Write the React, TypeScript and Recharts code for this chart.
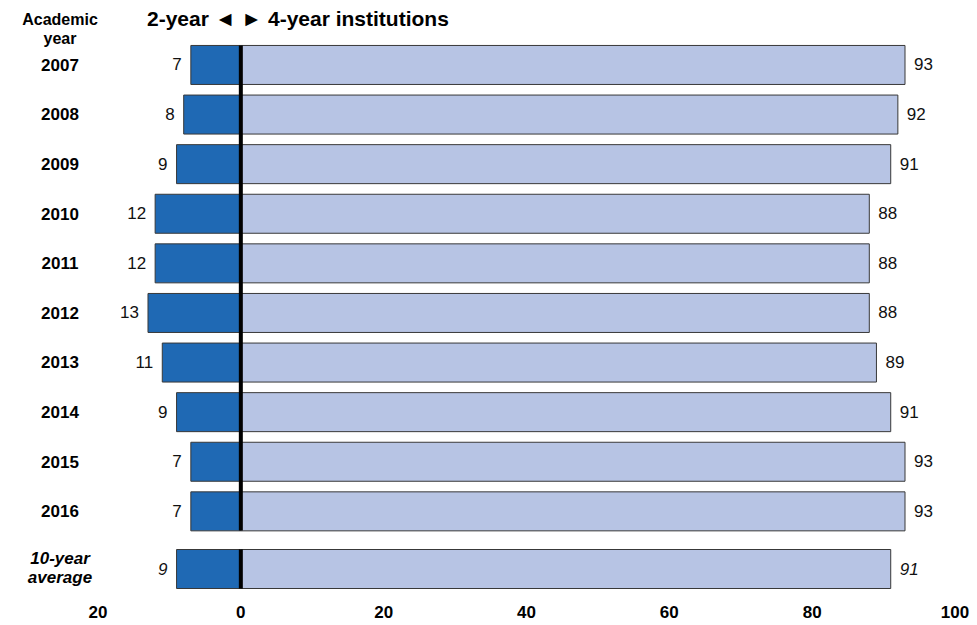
import { Bar, BarChart, LabelList, ReferenceLine, XAxis, YAxis } from 'recharts';

// Share of students by type of institution, percent
const years = ['2007', '2008', '2009', '2010', '2011', '2012', '2013', '2014', '2015', '2016'];
const twoYear = [7, 8, 9, 12, 12, 13, 11, 9, 7, 7];
const fourYear = [93, 92, 91, 88, 88, 88, 89, 91, 93, 93];

const averageLabel = '10-year\naverage';
const averageTwoYear = 9;
const averageFourYear = 91;

const xTicks = [-20, 0, 20, 40, 60, 80, 100];

const FONT = '"Liberation Sans", Arial, sans-serif';
const DARK = '#1f69b4';
const LIGHT = '#b7c4e4';
const EDGE = '#383838';
const GAP = '11%';
const LINE_INSET = 5.4;
const LABEL_X = 60;

const rows = years.map((year, i) => ({ year, two: -twoYear[i], four: fourYear[i] }));
const averageRow = [{ year: averageLabel, two: -averageTwoYear, four: averageFourYear }];

function YearTick(props: any) {
  const { y, payload } = props;
  const lines: string[] = String(payload.value).split('\n');
  const italic = lines.length > 1;
  const lh = 19;
  return (
    <text
      x={LABEL_X}
      y={y - (italic ? 2 : 0) - ((lines.length - 1) * lh) / 2}
      textAnchor="middle"
      dominantBaseline="central"
      fontFamily={FONT}
      fontWeight="bold"
      fontStyle={italic ? 'italic' : 'normal'}
      fontSize={17}
      fill="#000"
    >
      {lines.map((l, i) => (
        <tspan key={i} x={LABEL_X} dy={i === 0 ? 0 : lh}>
          {l}
        </tspan>
      ))}
    </text>
  );
}

const valueLabel = (side: 'left' | 'right', italic: boolean) => (props: any) => {
  const { x, y, width, height, value } = props;
  const lo = Math.min(x, x + width);
  const hi = Math.max(x, x + width);
  return (
    <text
      x={side === 'left' ? lo - 9 : hi + 9}
      y={y + height / 2}
      textAnchor={side === 'left' ? 'end' : 'start'}
      dominantBaseline="central"
      fontFamily={FONT}
      fontSize={17}
      fontStyle={italic ? 'italic' : 'normal'}
      fill="#111"
    >
      {Math.abs(value)}
    </text>
  );
};

function ZeroLine(props: any) {
  const top = Math.min(props.y1, props.y2) + LINE_INSET;
  const bottom = Math.max(props.y1, props.y2) - LINE_INSET;
  return <line x1={props.x1} x2={props.x2} y1={top} y2={bottom} stroke="#000" strokeWidth={4} />;
}

function Rows({ data, height, margin, italic, showAxis }: any) {
  return (
    <BarChart
      width={977}
      height={height}
      data={data}
      layout="vertical"
      stackOffset="sign"
      barCategoryGap={GAP}
      margin={margin}
    >
      <XAxis
        type="number"
        domain={[-20, 100]}
        ticks={xTicks}
        hide={!showAxis}
        height={31}
        axisLine={false}
        tickLine={false}
        tickMargin={6}
        tickFormatter={(v: number) => String(Math.abs(v))}
        tick={{ fill: '#000', fontSize: 17, fontWeight: 'bold', fontFamily: FONT }}
        interval={0}
      />
      <YAxis type="category" dataKey="year" width={98} axisLine={false} tickLine={false} tick={<YearTick />} />
      <Bar dataKey="two" stackId="s" fill={DARK} stroke={EDGE} strokeWidth={1} isAnimationActive={false}>
        <LabelList dataKey="two" content={valueLabel('left', italic)} />
      </Bar>
      <Bar dataKey="four" stackId="s" fill={LIGHT} stroke={EDGE} strokeWidth={1} isAnimationActive={false}>
        <LabelList dataKey="four" content={valueLabel('right', italic)} />
      </Bar>
      <ReferenceLine x={0} shape={<ZeroLine />} />
    </BarChart>
  );
}

export default function App() {
  return (
    <div style={{ position: 'absolute', left: 0, top: 0, width: 977, height: 625, background: '#fff', fontFamily: FONT }}>
      <div
        style={{
          position: 'absolute',
          left: LABEL_X - 60,
          width: 120,
          top: 10,
          textAlign: 'center',
          fontWeight: 'bold',
          fontSize: 16,
          lineHeight: '19px',
        }}
      >
        Academic
        <br />
        year
      </div>
      <div style={{ position: 'absolute', left: 147, top: 7, fontWeight: 'bold', fontSize: 21, whiteSpace: 'pre' }}>
        2-year ◄ ► 4-year institutions
      </div>
      <div style={{ position: 'absolute', left: 0, top: 0 }}>
        <Rows data={rows} height={536} margin={{ top: 40, right: 22, left: 0, bottom: 0 }} italic={false} showAxis={false} />
      </div>
      <div style={{ position: 'absolute', left: 0, top: 536 }}>
        <Rows data={averageRow} height={89} margin={{ top: 8, right: 22, left: 0, bottom: 0 }} italic showAxis />
      </div>
    </div>
  );
}
